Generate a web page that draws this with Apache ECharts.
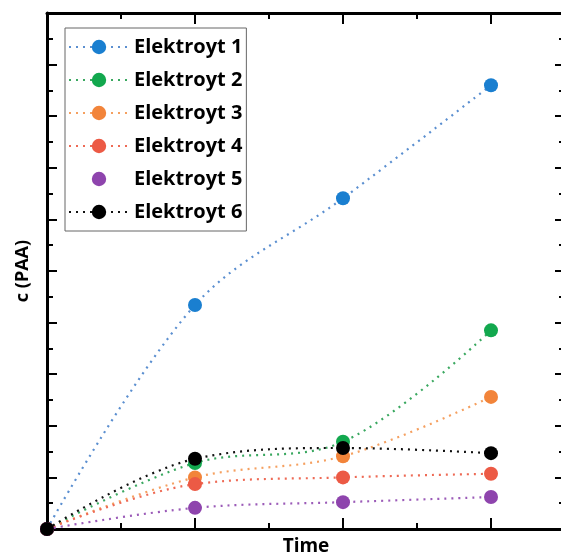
<!DOCTYPE html>
<html>
<head>
<meta charset="utf-8">
<script src="https://cdn.jsdelivr.net/npm/echarts@6/dist/echarts.min.js"></script>
<style>html,body{margin:0;padding:0;background:#fff;overflow:hidden}#c{width:561px;height:554px}</style>
</head>
<body>
<div id="c"></div>
<script>
var times = [0, 1, 2, 3];
var seriesNames = ['Elektroyt 1','Elektroyt 2','Elektroyt 3','Elektroyt 4','Elektroyt 5','Elektroyt 6'];
var e1 = [0, 4.34, 6.41, 8.60];
var e2 = [0, 1.28, 1.69, 3.85];
var e3 = [0, 1.00, 1.41, 2.56];
var e4 = [0, 0.87, 1.00, 1.07];
var e5 = [0, 0.41, 0.52, 0.62];
var e6 = [0, 1.36, 1.57, 1.47];
var markerColors = ['#1a7fd0','#12a84e','#f2843a','#ec5a45','#8e44ad','#000000'];
var lineColors = ['#5b8fd0','#3aa860','#f5a060','#ee6a55','#9b5bb8','#111111'];
var allValues = [e1, e2, e3, e4, e5, e6];

var chart = echarts.init(document.getElementById('c'), null, {renderer:'canvas'});
var FONT = 'Open Sans';
function axisLine(show){ return {show:show, onZero:false, lineStyle:{color:'#000', width:3}}; }
function xAx(pos, showName){
  return {type:'value', position:pos, min:0, max:3.5, interval:1,
    axisLine: axisLine(true),
    axisTick:{show:true, inside:true, length:11, lineStyle:{color:'#000', width:2}},
    minorTick:{show:true, splitNumber:2, length:6, lineStyle:{color:'#000', width:2}},
    axisLabel:{show:false}, splitLine:{show:false}, minorSplitLine:{show:false},
    name: showName ? 'Time' : '', nameLocation:'middle', nameGap:8,
    nameTextStyle:{fontFamily:FONT, fontWeight:'bold', fontSize:19, color:'#000', verticalAlign:'top'}};
}
function yAx(pos, showName){
  return {type:'value', position:pos, min:0, max:10, interval:1,
    axisLine: axisLine(pos === 'left'),
    axisTick:{show:true, inside:true, length:10, lineStyle:{color:'#000', width:2}},
    minorTick:{show:true, splitNumber:2, length:6, lineStyle:{color:'#000', width:2}},
    axisLabel:{show:false}, splitLine:{show:false}, minorSplitLine:{show:false},
    name: showName ? 'c (PAA)' : '', nameLocation:'middle', nameGap:15, nameRotate:90,
    nameTextStyle:{fontFamily:FONT, fontWeight:'bold', fontSize:18, color:'#000'}};
}
var series = seriesNames.map(function(n, i){
  return {
    name:n, type:'line', smooth:0.35, xAxisIndex:0, yAxisIndex:0,
    data: times.map(function(t, k){ return [t, allValues[i][k]]; }),
    symbol:'circle', symbolSize:14, showSymbol:true,
    itemStyle:{color:markerColors[i]},
    lineStyle:{color:lineColors[i], width:2.2, type:[2,5]},
    z: 2 + i
  };
});
var legendData = seriesNames.map(function(n){
  return n === 'Elektroyt 5' ? {name:n, lineStyle:{opacity:0}} : {name:n};
});
chart.setOption({
  animation:false,
  backgroundColor:'#fff',
  grid:{left:47, top:13, width:518, height:516, containLabel:false, outerBoundsMode:'none'},
  xAxis:[xAx('bottom', true), xAx('top', false)],
  yAxis:[yAx('left', true), yAx('right', false)],
  legend:{
    show:true, orient:'vertical', left:65, top:28,
    padding:[7, 4, 7, 3], itemGap:9, itemWidth:60, itemHeight:18,
    borderColor:'#666', borderWidth:1, backgroundColor:'#fff',
    data: legendData,
    textStyle:{fontFamily:FONT, fontWeight:'bold', fontSize:20, color:'#000', lineHeight:24}
  },
  series: series
});
</script>
</body>
</html>
